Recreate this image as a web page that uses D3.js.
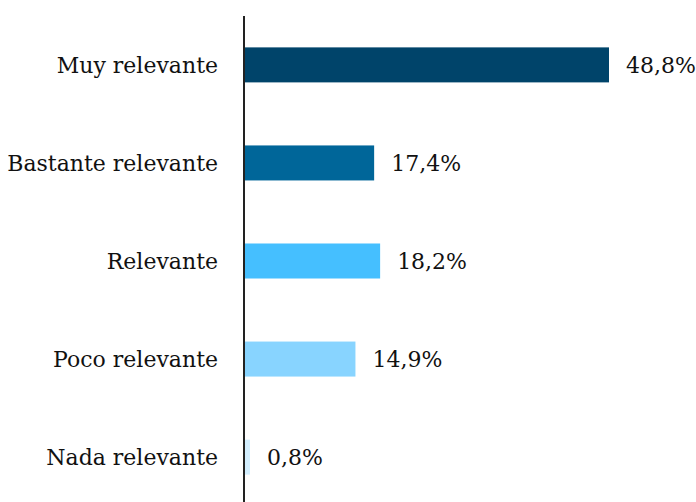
<!DOCTYPE html>
<html>
<head>
<meta charset="utf-8">
<script src="https://cdn.jsdelivr.net/npm/d3@7"></script>
<style>
  body { margin: 0; background: #fff; }
  text { font-family: "DejaVu Serif", serif; fill: #111; }
</style>
</head>
<body>
<div id="chart"></div>
<script>
var categories = ["Muy relevante", "Bastante relevante", "Relevante", "Poco relevante", "Nada relevante"];
var values = [48.8, 17.4, 18.2, 14.9, 0.8];
var colors = ["#00446a", "#006699", "#45bfff", "#88d4ff", "#d3efff"];

var width = 696, height = 502,
  margin = {top: 16, right: 0, bottom: 0, left: 244};

var svg = d3.select("#chart").append("svg")
  .attr("width", width)
  .attr("height", height);

var x = d3.scaleLinear()
  .domain([0, 48.8])
  .range([margin.left, 609]);

var y = d3.scaleBand()
  .domain(categories)
  .range([16, 506])
  .paddingInner(0.643)
  .paddingOuter(0.32);

var data = categories.map(function (c, i) {
  return {cat: c, value: values[i], color: colors[i]};
});

svg.selectAll(".bar")
  .data(data)
  .enter().append("rect")
  .attr("class", "bar")
  .attr("x", x(0))
  .attr("y", function (d) { return y(d.cat); })
  .attr("width", function (d) { return x(d.value) - x(0); })
  .attr("height", y.bandwidth())
  .attr("fill", function (d) { return d.color; });

// value labels
svg.selectAll(".val")
  .data(data)
  .enter().append("text")
  .attr("class", "val")
  .attr("x", function (d) { return x(d.value) + 17; })
  .attr("y", function (d) { return y(d.cat) + y.bandwidth() / 2; })
  .attr("dy", "0.38em")
  .style("font-size", "22px")
  .text(function (d) { return d3.format(".1f")(d.value).replace(".", ",") + "%"; });

// category axis
var axis = svg.append("g")
  .attr("transform", "translate(" + margin.left + ",0)")
  .call(d3.axisLeft(y).tickSize(0).tickPadding(26));

axis.select(".domain")
  .attr("d", "M0," + margin.top + "V" + height)
  .attr("stroke", "#222")
  .attr("stroke-width", 2);

axis.selectAll("text")
  .attr("dy", "0.38em")
  .style("font-size", "22px")
  .style("font-family", "'DejaVu Serif', serif")
  .attr("fill", "#111");
</script>
</body>
</html>
